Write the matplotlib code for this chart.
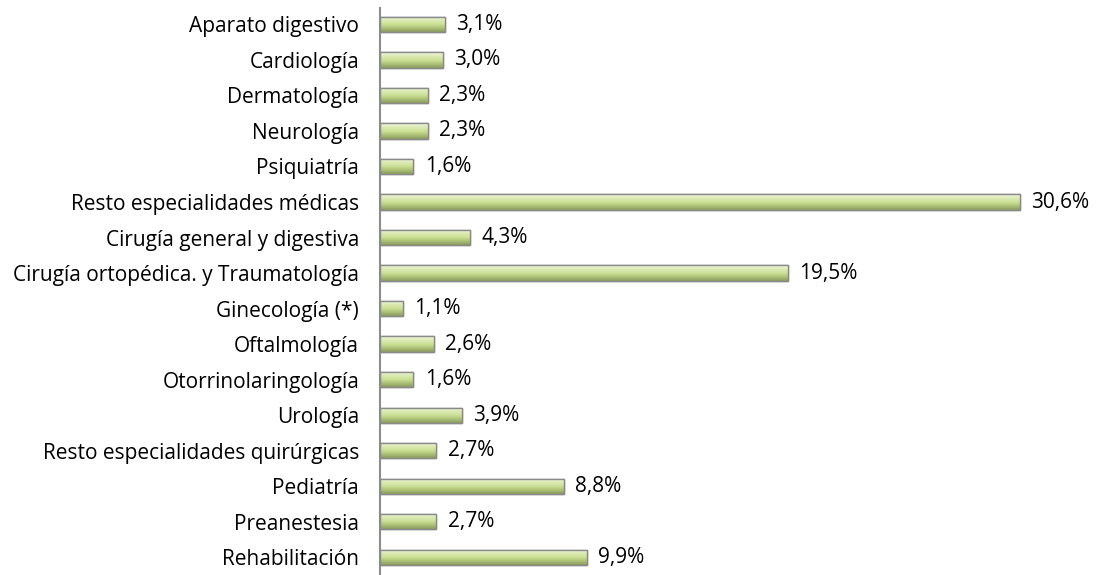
import matplotlib
matplotlib.use("Agg")
import matplotlib.pyplot as plt
import numpy as np
from matplotlib.colors import LinearSegmentedColormap

categories = [
    "Aparato digestivo", "Cardiología", "Dermatología", "Neurología", "Psiquiatría",
    "Resto especialidades médicas", "Cirugía general y digestiva",
    "Cirugía ortopédica. y Traumatología", "Ginecología (*)", "Oftalmología",
    "Otorrinolaringología", "Urología", "Resto especialidades quirúrgicas",
    "Pediatría", "Preanestesia", "Rehabilitación",
]
values = [3.1, 3.0, 2.3, 2.3, 1.6, 30.6, 4.3, 19.5, 1.1, 2.6, 1.6, 3.9, 2.7, 8.8, 2.7, 9.9]
value_labels = ["3,1%", "3,0%", "2,3%", "2,3%", "1,6%", "30,6%", "4,3%", "19,5%",
                "1,1%", "2,6%", "1,6%", "3,9%", "2,7%", "8,8%", "2,7%", "9,9%"]

plt.rcParams['font.family'] = ['Open Sans', 'DejaVu Sans']

fig = plt.figure(figsize=(11, 5.75), dpi=100)
ax = fig.add_axes([0.3455, 0.0, 0.6545, 0.986])

y = np.arange(len(categories))
bars = ax.barh(y, values, height=0.43, color="#d2e4a0", edgecolor="#8a8a8a", linewidth=1.0, zorder=2)

cmap = LinearSegmentedColormap.from_list(
    "g", ["#f2f7e2", "#dcebb5", "#cde196", "#adc178", "#8a9a5e"])
grad = np.linspace(0, 1, 64).reshape(-1, 1)
for b in bars:
    x0, y0 = b.get_x(), b.get_y()
    w, h = b.get_width(), b.get_height()
    im = ax.imshow(grad, cmap=cmap, aspect="auto", extent=(x0, x0 + w, y0 + h, y0),
                   zorder=2.5, interpolation="bilinear")
    im.set_clip_path(b)
    ax.add_patch(plt.Rectangle((x0, y0), w, h, fill=False, edgecolor="#8a8a8a",
                               linewidth=1.0, zorder=3))

for yi, v, lab in zip(y, values, value_labels):
    ax.annotate(lab, (v, yi), xytext=(8, 0), textcoords="offset points",
                va="center", ha="left", fontsize=15, color="#000000")

ax.set_xlim(0, 34.45)
ax.set_ylim(15.5, -0.46)
ax.set_yticks(y)
ax.set_yticklabels(categories, fontsize=15)
ax.tick_params(axis="y", length=0, pad=15)
ax.set_xticks([])
for s in ["top", "right", "bottom"]:
    ax.spines[s].set_visible(False)
ax.spines["left"].set_color("#8c8c8c")
ax.spines["left"].set_linewidth(1.5)

fig.savefig("out.png", dpi=100)
